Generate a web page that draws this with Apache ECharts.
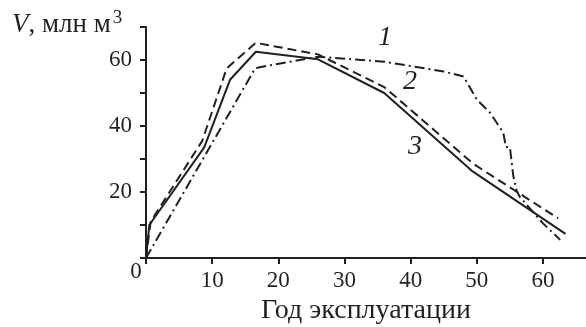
<!DOCTYPE html>
<html>
<head>
<meta charset="utf-8">
<script src="https://cdn.jsdelivr.net/npm/echarts@6/dist/echarts.min.js"></script>
<style>html,body{margin:0;padding:0;background:#fff}#c{width:586px;height:327px}</style>
</head>
<body>
<div id="c"></div>
<script>
// Curve 1 (dash-dot)
const curve1 = [[0,0],[16.5,57.5],[19,58.5],[26,61],[36,59.5],[45,56.5],[48,55],[50,48],[52,44],[54,38],[54.4,33.6],[55,33.6],[55.5,25],[56,20.5],[56.5,18.5],[60,10.5],[62.6,5.5]];
// Curve 2 (dashed)
const curve2 = [[0,0],[0.7,11],[8.5,35.5],[12.2,57.5],[16.6,65.2],[26,61.7],[36,51.8],[49.5,28.5],[62.3,12]];
// Curve 3 (solid)
const curve3 = [[0,0],[0.5,10],[8.8,33.5],[12.7,54],[16.6,62.5],[26,60.2],[36,50],[49.2,26.5],[63.4,7.3]];
const xTicks = [0,10,20,30,40,50,60];
const xLabels = [10,20,30,40,50,60];
const yTicks = [0,10,20,30,40,50,60,70];
const yLabels = [20,40,60];
const curveNames = ['1','2','3'];
const xTitle = 'Год эксплуатации';

const ink = '#231f20';
const font = '"Liberation Serif","Times New Roman",serif';
const chart = echarts.init(document.getElementById('c'));
const lineSeries = (data, type) => ({
  type: 'line', data, showSymbol: false, symbol: 'none', animation: false,
  lineStyle: { color: ink, width: 2, type }
});
chart.setOption({
  animation: false,
  grid: { left: 146, right: 0, top: 27, bottom: 69, containLabel: false, outerBoundsMode: 'none' },
  xAxis: {
    type: 'value', min: 0, max: 66.5,
    axisLine: { lineStyle: { color: ink, width: 2 } },
    axisTick: { show: true, length: 6, customValues: xTicks, lineStyle: { color: ink, width: 2 } },
    axisLabel: { customValues: xLabels, color: ink, fontFamily: font, fontSize: 23, margin: 11 },
    splitLine: { show: false },
    name: xTitle, nameLocation: 'middle', nameGap: 33,
    nameTextStyle: { color: ink, fontFamily: font, fontSize: 28 }
  },
  yAxis: {
    type: 'value', min: 0, max: 70,
    axisLine: { show: true, lineStyle: { color: ink, width: 2 } },
    axisTick: { show: true, length: 6, customValues: yTicks, lineStyle: { color: ink, width: 2 } },
    axisLabel: { customValues: yLabels, color: ink, fontFamily: font, fontSize: 23, margin: 14 },
    splitLine: { show: false }
  },
  graphic: [
    { type: 'text', left: 12, top: 9, style: {
      text: '{v|V}{t|, млн м}{s|3}',
      rich: {
        v: { fontFamily: font, fontStyle: 'italic', fontSize: 27, fill: ink },
        t: { fontFamily: font, fontSize: 27, fill: ink },
        s: { fontFamily: font, fontSize: 19, fill: ink, verticalAlign: 'top', padding: [0,0,12,2] }
      } } },
    { type: 'text', x: 136, y: 272, style: { text: '0', fontFamily: font, fontSize: 23, fill: ink, align: 'center', verticalAlign: 'middle' } },
    { type: 'text', x: 385, y: 38, style: { text: curveNames[0], fontFamily: font, fontStyle: 'italic', fontSize: 28, fill: ink, align: 'center', verticalAlign: 'middle' } },
    { type: 'text', x: 410, y: 82, style: { text: curveNames[1], fontFamily: font, fontStyle: 'italic', fontSize: 28, fill: ink, align: 'center', verticalAlign: 'middle' } },
    { type: 'text', x: 415, y: 147, style: { text: curveNames[2], fontFamily: font, fontStyle: 'italic', fontSize: 28, fill: ink, align: 'center', verticalAlign: 'middle' } }
  ],
  series: [
    lineSeries(curve1, [10,4,2,4]),
    lineSeries(curve2, [9,5]),
    lineSeries(curve3, 'solid')
  ]
});
</script>
</body>
</html>
